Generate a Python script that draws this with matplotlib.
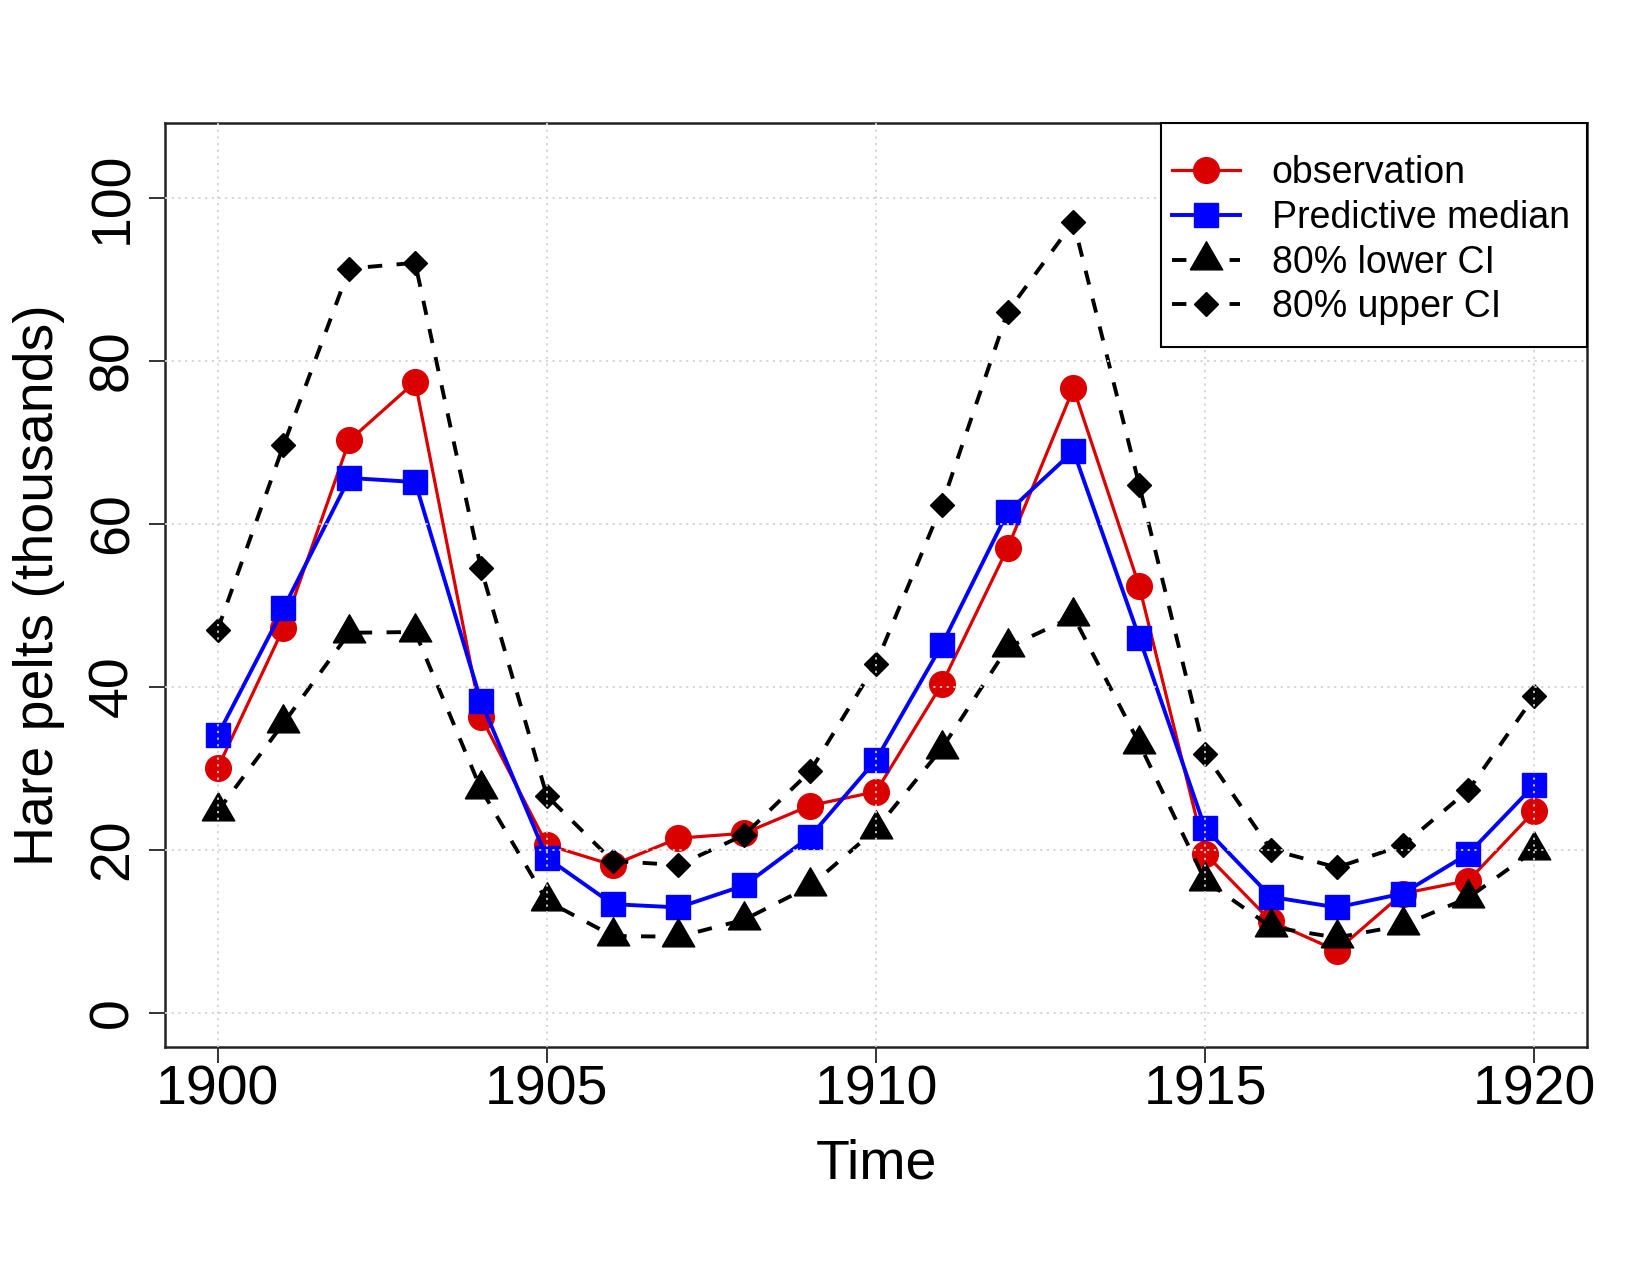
import numpy as np
import matplotlib
matplotlib.use("Agg")
import matplotlib.pyplot as plt
from matplotlib.patches import Rectangle

# hare pelts data and model predictions (thousands)
years = list(range(1900, 1921))
observation = [30.0, 47.2, 70.2, 77.4, 36.3, 20.6, 18.1, 21.4, 22.0, 25.4, 27.1,
               40.3, 57.0, 76.6, 52.3, 19.5, 11.2, 7.6, 14.6, 16.2, 24.7]
pred_median = [34.0, 49.6, 65.6, 65.1, 38.2, 19.0, 13.3, 12.9, 15.6, 21.6, 31.0,
               45.1, 61.4, 68.9, 46.0, 22.6, 14.2, 12.9, 14.6, 19.5, 27.9]
lower_ci = [24.7, 35.5, 46.6, 46.7, 27.4, 13.7, 9.4, 9.3, 11.4, 15.5, 22.5,
            32.4, 44.8, 48.6, 33.0, 16.2, 10.5, 9.2, 10.7, 14.1, 19.9]
upper_ci = [47.0, 69.6, 91.3, 92.0, 54.5, 26.6, 18.6, 18.1, 21.8, 29.6, 42.8,
            62.3, 86.0, 97.0, 64.7, 31.7, 20.0, 17.8, 20.5, 27.3, 38.8]

xticks = [1900, 1905, 1910, 1915, 1920]
yticks = [0, 20, 40, 60, 80, 100]

plt.rcParams['font.family'] = ['Liberation Sans', 'DejaVu Sans']

fig = plt.figure(figsize=(16.5, 12.75), dpi=100)
ax = fig.add_axes([0.1, 0.179, 0.8618, 0.7248])

# equilateral triangle like R's pch 17
tri = [(-1, -0.577), (1, -0.577), (0, 1.155), (-1, -0.577)]

ax.plot(years, observation, color='#DA0000', lw=2.3, marker='o', ms=18.5,
        label='observation')
ax.plot(years, pred_median, color='#0000FF', lw=2.8, marker='s', ms=17.5,
        label='Predictive median')
ax.plot(years, lower_ci, color='black', lw=2.8, dashes=(3.7, 3.7), marker=tri,
        ms=27, label='80% lower CI')
ax.plot(years, upper_ci, color='black', lw=2.8, dashes=(3.7, 3.7), marker='D',
        ms=12.5, label='80% upper CI')

ax.set_xlim(1899.2, 1920.8)
ax.set_ylim(-4.2, 109.2)
ax.set_xticks(xticks)
ax.set_yticks(yticks)
ax.set_axisbelow(False)
ax.grid(True, color='#D3D3D3', linestyle=(0, (1.2, 2.5)), lw=1.3)

for s in ax.spines.values():
    s.set_linewidth(1.8)
    s.set_color('#222222')

ax.tick_params(axis='both', length=11.5, width=1.4, color='#333333',
               labelsize=40)
ax.tick_params(axis='x', pad=1)
ax.tick_params(axis='y', pad=7)
for lab in ax.get_yticklabels():
    lab.set_rotation(90)
    lab.set_va('center')

ax.set_xlabel('Time', fontsize=40, labelpad=16)
ax.set_ylabel('Hare pelts (thousands)', fontsize=40, labelpad=16)

# legend box like R: tight left/right padding, roomier top/bottom
box = (0.7004, 0.7573, 0.2996, 0.2427)
ax.add_patch(Rectangle(box[:2], box[2], box[3], transform=ax.transAxes,
                       facecolor='white', edgecolor='black', lw=1.5,
                       zorder=4, clip_on=False))
leg = ax.legend(loc='center', bbox_to_anchor=(box[0] - 0.002, box[1] - 0.006,
                                              box[2], box[3]),
                fontsize=27, frameon=False, borderaxespad=0, borderpad=0.2,
                handlelength=1.8, handletextpad=0.85, labelspacing=0.23)
leg.set_zorder(5)

plt.savefig('out.png', dpi=100)
